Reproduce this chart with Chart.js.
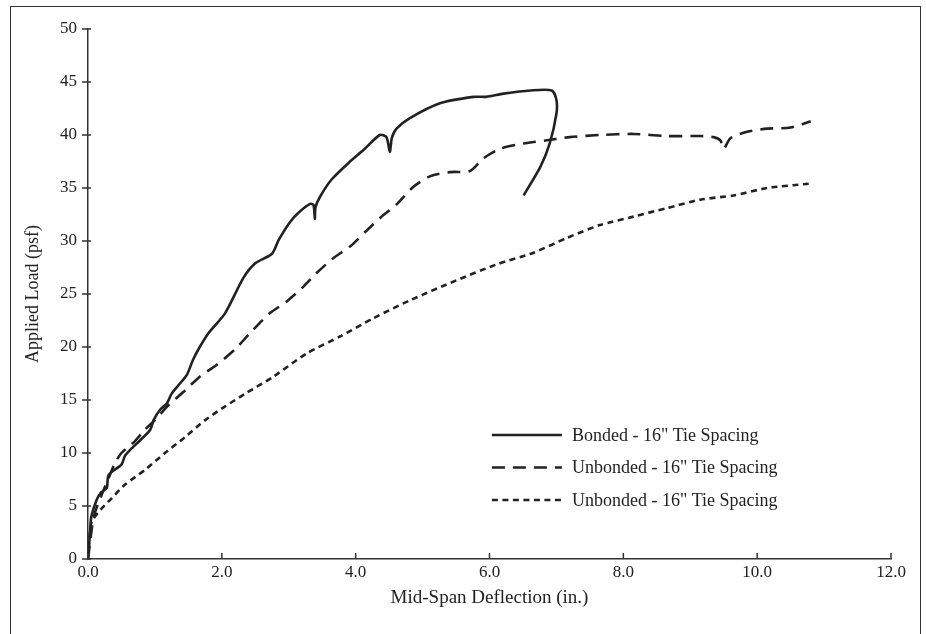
<!DOCTYPE html>
<html>
<head>
<meta charset="utf-8">
<script src="https://cdn.jsdelivr.net/npm/chart.js@4"></script>
<style>
  body { margin: 0; background: #fff; overflow: hidden; }
  #frame { position: absolute; left: 10px; top: 6px; width: 909px; height: 660px; border: 1.5px solid #333; }
  #wrap { position: absolute; left: 0; top: 0; width: 926px; height: 634px; }
</style>
</head>
<body>
<div id="frame"></div>
<div id="wrap"><canvas id="chart-0" width="926" height="634"></canvas></div>
<script>
// Mid-span deflection (in.) / applied load (psf)
var bondedX = [0, 0.03, 0.05, 0.13, 0.2, 0.28, 0.3, 0.35, 0.5, 0.55, 0.63, 0.78, 0.93, 0.98, 1.08, 1.18, 1.25, 1.38, 1.48, 1.57, 1.67, 1.8, 2.05, 2.32, 2.5, 2.75, 2.85, 3.02, 3.17, 3.32, 3.37, 3.39, 3.4, 3.47, 3.64, 3.9, 4.12, 4.36, 4.46, 4.51, 4.54, 4.61, 4.81, 5.26, 5.76, 5.95, 6.21, 6.61, 6.93, 7.0, 7.0, 6.9, 6.76, 6.51];
var bondedY = [0, 2.5, 4.0, 5.6, 6.3, 6.7, 7.8, 8.2, 8.9, 9.7, 10.3, 11.2, 12.2, 13.1, 14.1, 14.7, 15.6, 16.6, 17.4, 18.8, 20.0, 21.3, 23.2, 26.5, 27.9, 28.8, 30.1, 31.8, 32.8, 33.5, 33.4, 32.1, 33.2, 34.2, 35.8, 37.4, 38.6, 40.0, 39.8, 38.4, 39.7, 40.6, 41.6, 43.0, 43.6, 43.6, 43.9, 44.2, 44.2, 43.3, 42.0, 39.2, 37.0, 34.3];

var unbondedX = [0, 0.03, 0.06, 0.1, 0.2, 0.3, 0.4, 0.5, 0.7, 0.85, 1.0, 1.2, 1.45, 1.67, 1.92, 2.2, 2.42, 2.72, 2.97, 3.22, 3.42, 3.67, 3.92, 4.15, 4.37, 4.62, 4.86, 5.11, 5.41, 5.71, 5.91, 6.16, 6.51, 6.86, 7.2, 7.65, 8.15, 8.65, 9.15, 9.35, 9.45, 9.5, 9.6, 9.85, 10.15, 10.5, 10.8];
var unbondedY = [0, 1.5, 3.0, 4.3, 6.0, 7.5, 9.0, 10.0, 11.1, 12.2, 13.1, 14.5, 15.9, 17.2, 18.3, 19.8, 21.3, 23.2, 24.3, 25.7, 27.0, 28.4, 29.5, 30.9, 32.2, 33.5, 35.1, 36.1, 36.5, 36.6, 37.8, 38.7, 39.2, 39.5, 39.8, 40.0, 40.1, 39.9, 39.9, 39.8, 39.5, 38.7, 39.7, 40.3, 40.6, 40.7, 41.3];

var unbonded2X = [0, 0.02, 0.055, 0.18, 0.35, 0.55, 0.85, 1.15, 1.45, 1.75, 2.05, 2.35, 2.77, 3.27, 3.77, 4.26, 4.81, 5.51, 6.11, 6.66, 7.16, 7.65, 8.15, 8.65, 9.15, 9.65, 10.15, 10.77];
var unbonded2Y = [0, 1.8, 3.5, 4.6, 5.7, 7.0, 8.4, 10.0, 11.5, 13.1, 14.4, 15.6, 17.2, 19.4, 21.0, 22.7, 24.4, 26.3, 27.8, 28.9, 30.3, 31.5, 32.3, 33.1, 33.9, 34.3, 35.0, 35.4];

var seriesLabels = ['Bonded - 16" Tie Spacing', 'Unbonded - 16" Tie Spacing', 'Unbonded - 16" Tie Spacing'];
var xTicks = [0, 2, 4, 6, 8, 10, 12];
var yTicks = [0, 5, 10, 15, 20, 25, 30, 35, 40, 45, 50];

var serif = "'Liberation Serif', 'DejaVu Serif', serif";
var ink = "#222";

function toPoints(xs, ys){
    var pts = [];
    for (var i = 0; i < xs.length; i++) pts.push({x: xs[i], y: ys[i]});
    return pts;
}

// tick marks: x ticks point up into the plot, y ticks cross the axis
var tickMarks = {
    id: "tickMarks",
    afterDraw: function(chart){
        var ctx = chart.ctx, a = chart.chartArea;
        var xs = chart.scales.x, ys = chart.scales.y;
        ctx.save();
        ctx.strokeStyle = "#333";
        ctx.lineWidth = 1.5;
        ctx.beginPath();
        xTicks.forEach(function(v){
            var px = xs.getPixelForValue(v);
            ctx.moveTo(px, a.bottom); ctx.lineTo(px, a.bottom - 6);
        });
        yTicks.forEach(function(v){
            var py = ys.getPixelForValue(v);
            ctx.moveTo(a.left - 6, py); ctx.lineTo(a.left + 3, py);
        });
        ctx.stroke();
        ctx.restore();
    }
};

// legend in lower right of the plot
var lineLegend = {
    id: "lineLegend",
    afterDraw: function(chart){
        var ctx = chart.ctx, a = chart.chartArea;
        var x0 = a.left + 0.503 * (a.right - a.left);
        var y0 = a.top + 0.766 * (a.bottom - a.top);
        ctx.save();
        ctx.font = "18px " + serif;
        ctx.textBaseline = "middle";
        ctx.fillStyle = ink;
        chart.data.datasets.forEach(function(ds, i){
            var y = y0 + i * 32.5;
            ctx.strokeStyle = ink;
            ctx.lineWidth = 2.6;
            ctx.setLineDash(ds.borderDash || []);
            ctx.beginPath();
            ctx.moveTo(x0, y); ctx.lineTo(x0 + 70, y);
            ctx.stroke();
            ctx.setLineDash([]);
            ctx.fillText(ds.label, x0 + 80, y + 1);
        });
        ctx.restore();
    }
};

function loadDeflectionChart(){
    new Chart(document.getElementById("chart-0"), {
        type: "scatter",
        data: {
            datasets: [
                {label: seriesLabels[0], data: toPoints(bondedX, bondedY), borderDash: []},
                {label: seriesLabels[1], data: toPoints(unbondedX, unbondedY), borderDash: [13, 8]},
                {label: seriesLabels[2], data: toPoints(unbonded2X, unbonded2Y), borderDash: [6, 4.5]}
            ].map(function(d){
                d.showLine = true;
                d.borderColor = ink;
                d.borderWidth = 2.6;
                d.pointRadius = 0;
                d.tension = 0.25;
                d.fill = false;
                return d;
            })
        },
        options: {
            responsive: false,
            animation: false,
            layout: {padding: {left: 0, right: 35, top: 29, bottom: 0}},
            plugins: {legend: {display: false}, tooltip: {enabled: false}},
            scales: {
                x: {
                    type: "linear", min: 0, max: 12,
                    afterFit: function(s){ s.height = 75; },
                    afterBuildTicks: function(s){ s.ticks = xTicks.map(function(v){ return {value: v}; }); },
                    grid: {display: false, drawTicks: false},
                    border: {display: true, color: "#333", width: 1.5},
                    ticks: {
                        padding: 3, color: ink, font: {family: serif, size: 17},
                        maxRotation: 0,
                        callback: function(v){ return Number(v).toFixed(1); }
                    },
                    title: {display: true, text: "Mid-Span Deflection (in.)", color: ink,
                            font: {family: serif, size: 19}, padding: {top: 0, bottom: 25}}
                },
                y: {
                    type: "linear", min: 0, max: 50,
                    afterFit: function(s){ s.width = 88; },
                    afterBuildTicks: function(s){ s.ticks = yTicks.map(function(v){ return {value: v}; }); },
                    grid: {display: false, drawTicks: false},
                    border: {display: true, color: "#333", width: 1.5},
                    ticks: {padding: 11, color: ink, font: {family: serif, size: 17}},
                    title: {display: true, text: "Applied Load (psf)", color: ink,
                            font: {family: serif, size: 18}, padding: {top: 22, bottom: 0}}
                }
            }
        },
        plugins: [tickMarks, lineLegend]
    });
}

loadDeflectionChart();
</script>
</body>
</html>
